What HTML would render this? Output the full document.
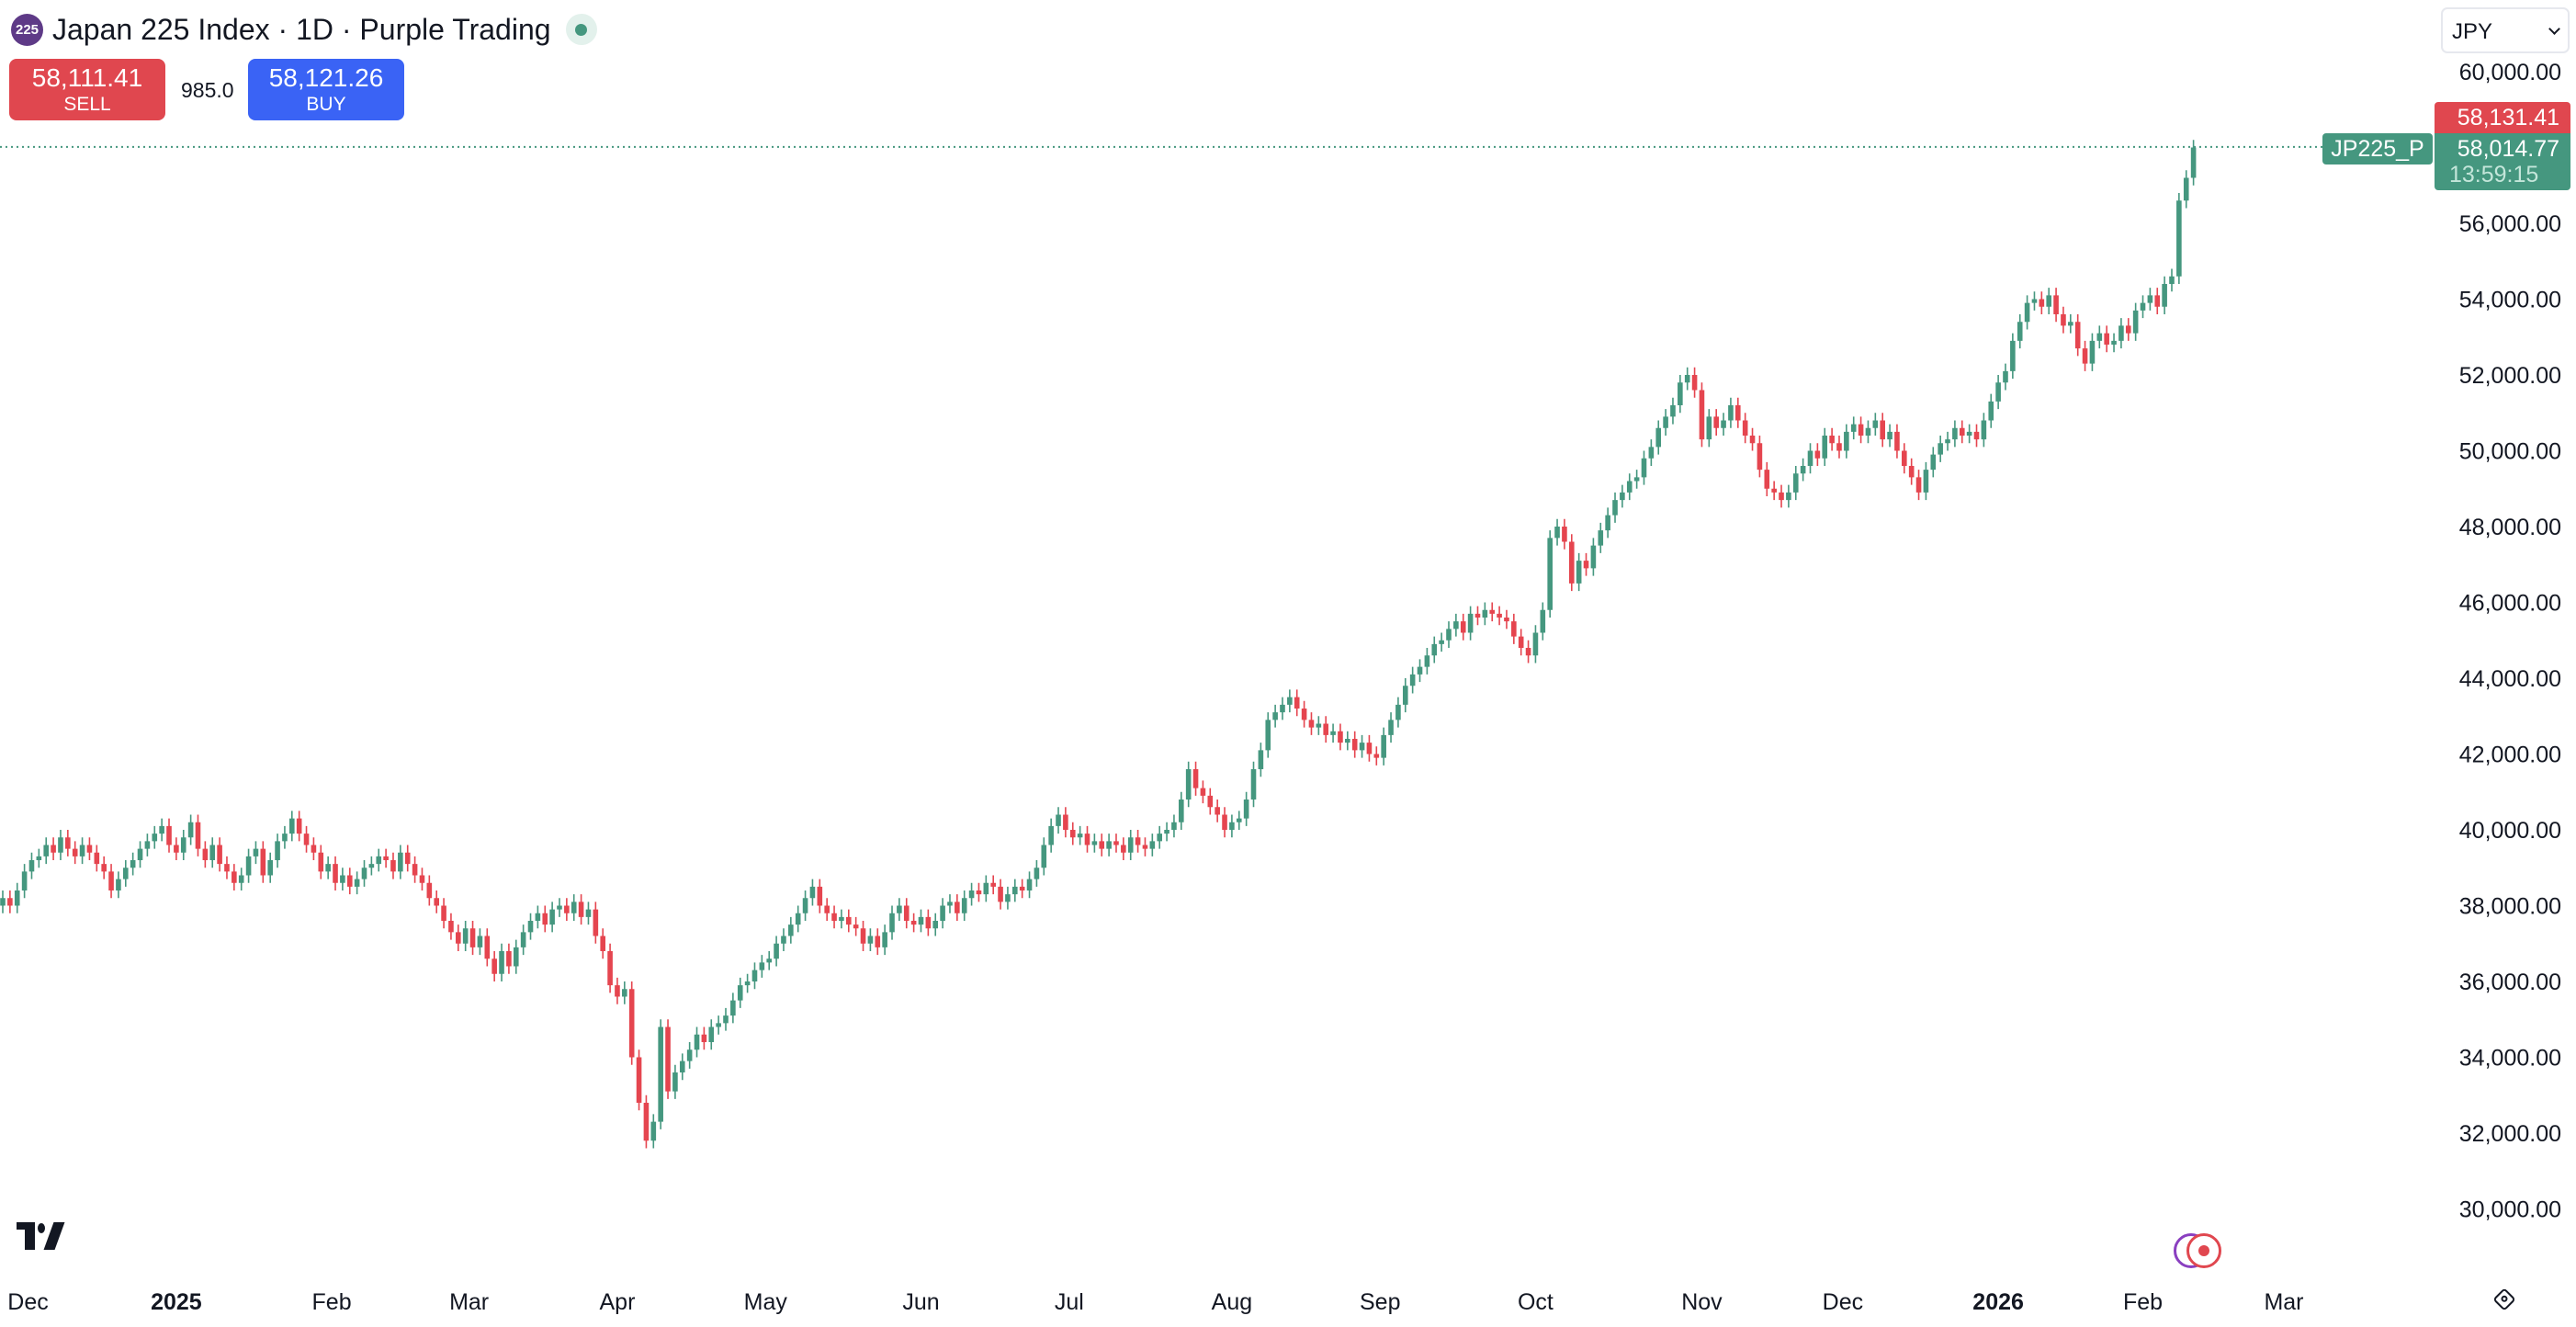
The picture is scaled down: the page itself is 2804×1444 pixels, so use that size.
<!DOCTYPE html>
<html><head><meta charset="utf-8"><style>
body{margin:0;width:2804px;height:1444px;background:#fff;overflow:hidden;font-family:"Liberation Sans",sans-serif;}
svg{position:absolute;left:0;top:0}
</style></head><body>
<svg id="c" width="2804" height="1444"></svg>
<script>
const closes=[38.2,38.0,38.4,38.9,39.2,39.3,39.6,39.4,39.8,39.5,39.3,
39.6,39.4,39.1,38.9,38.4,38.7,39.0,39.2,39.5,39.7,
39.9,40.1,39.6,39.4,39.8,40.2,39.5,39.2,39.6,39.1,
38.9,38.6,38.8,39.3,39.5,38.8,39.2,39.7,39.9,40.3,
39.9,39.6,39.4,38.9,39.1,38.6,38.8,38.5,38.7,39.0,
39.1,39.3,39.2,38.9,39.4,39.1,38.8,38.6,38.2,38.0,
37.6,37.3,37.0,37.4,36.9,37.2,36.6,36.2,36.8,36.4,
36.9,37.3,37.6,37.8,37.5,37.9,38.0,37.8,38.1,37.7,
37.9,37.2,36.8,35.9,35.6,35.8,34.0,32.8,31.8,32.3,
34.8,33.1,33.6,33.9,34.2,34.6,34.4,34.8,34.9,35.1,
35.5,35.9,36.0,36.3,36.5,36.6,37.0,37.2,37.5,37.8,
38.2,38.5,38.0,37.8,37.6,37.7,37.5,37.4,37.0,37.2,
36.9,37.3,37.8,38.0,37.6,37.5,37.7,37.4,37.6,38.0,
38.1,37.8,38.2,38.4,38.3,38.6,38.5,38.1,38.3,38.5,
38.4,38.7,39.0,39.6,40.1,40.4,40.0,39.8,39.9,39.6,
39.7,39.5,39.7,39.6,39.4,39.8,39.6,39.5,39.7,39.9,
40.0,40.2,40.8,41.6,41.1,40.9,40.6,40.4,40.0,40.2,
40.3,40.8,41.6,42.1,42.9,43.1,43.3,43.5,43.2,42.9,
42.7,42.8,42.5,42.6,42.3,42.4,42.1,42.3,42.0,41.9,
42.5,42.9,43.3,43.8,44.1,44.3,44.6,44.9,45.0,45.3,
45.5,45.2,45.7,45.6,45.8,45.7,45.6,45.5,45.1,44.8,
44.6,45.2,45.8,47.7,48.0,47.6,46.5,47.1,46.9,47.5,
47.9,48.3,48.7,48.9,49.2,49.3,49.8,50.1,50.6,50.9,
51.2,51.8,52.0,51.6,50.3,50.9,50.6,50.8,51.2,50.8,
50.4,50.2,49.5,49.0,48.9,48.7,48.9,49.4,49.6,50.0,
49.8,50.4,50.2,50.0,50.5,50.7,50.4,50.6,50.8,50.3,
50.5,50.0,49.6,49.3,48.9,49.5,49.9,50.2,50.3,50.6,
50.4,50.5,50.3,50.8,51.3,51.8,52.1,52.9,53.4,53.9,
54.0,53.8,54.1,53.6,53.3,53.4,52.7,52.3,52.9,53.1,
52.8,52.9,53.3,53.1,53.7,53.9,54.1,53.8,54.4,54.6,
56.6,57.2,58.0];
const yTicks=[30000,32000,34000,36000,38000,40000,42000,44000,46000,48000,50000,52000,54000,56000,58000,60000];
const monthLabels=["Dec","2025","Feb","Mar","Apr","May","Jun","Jul","Aug","Sep","Oct","Nov","Dec","2026","Feb","Mar"];
const monthBars=[3.5,24,45.5,64.5,85,105.5,127,147.5,170,190.5,212,235,254.5,276,296,315.5];
const boldLabels=["2025","2026"];
const lastPrice=58014.77;
const ns="http://www.w3.org/2000/svg";
const svg=document.getElementById('c');
const y=p=>78+(60000-p)/1000*41.25;
const x=i=>3+i*7.87;
function mk(t,a,txt){const e=document.createElementNS(ns,t);for(const k in a)e.setAttribute(k,a[k]);if(txt!==undefined)e.textContent=txt;svg.appendChild(e);return e;}
yTicks.forEach(v=>{
const t=mk('text',{x:2788,y:y(v)+9,'text-anchor':'end','font-size':25,fill:'#131722'},v.toLocaleString('en-US',{minimumFractionDigits:2}));


});
monthLabels.forEach((m,i)=>{
const t=mk('text',{x:x(monthBars[i]),y:1425,'text-anchor':'middle','font-size':25,fill:'#131722','font-weight':boldLabels.includes(m)?'bold':'normal'},m);


});
const pl=mk('line',{x1:0,x2:2528,y1:y(lastPrice),y2:y(lastPrice),stroke:'#45977f','stroke-width':2,'stroke-dasharray':'2 4'});


closes.forEach((c,i)=>{
const cl=c*1000, op=(i?closes[i-1]:c-0.2)*1000;
const up=cl>=op, col=up?'#45977f':'#e5454f';
const hi=Math.max(op,cl)+200, lo=Math.min(op,cl)-200;
const w=mk('line',{x1:x(i),x2:x(i),y1:y(hi),y2:y(lo),stroke:col,'stroke-width':1.6});


const top=y(Math.max(op,cl)),h=Math.max(1.5,y(Math.min(op,cl))-top);
const b=mk('rect',{x:x(i)-2.8,y:top,width:5.6,height:h,fill:col});


});
</script>
<div style="position:absolute;left:12px;top:13px;height:38px;display:flex;align-items:center">
<div style="width:35px;height:35px;border-radius:50%;background:#5e3a87;color:#fff;font-size:15px;font-weight:bold;display:flex;align-items:center;justify-content:center">225</div>
<div style="margin-left:10px;font-size:32px;color:#131722">Japan 225 Index · 1D · Purple Trading</div>
<div style="margin-left:16px;width:34px;height:34px;border-radius:50%;background:#e3f1ec;display:flex;align-items:center;justify-content:center"><div style="width:13px;height:13px;border-radius:50%;background:#45977f"></div></div>
</div>
<div style="position:absolute;left:10px;top:64px;width:170px;height:67px;background:#e0474f;border-radius:8px;color:#fff;text-align:center">
<div style="font-size:28px;margin-top:5px">58,111.41</div><div style="font-size:21px;margin-top:1px">SELL</div></div>
<div style="position:absolute;left:197px;top:85px;font-size:23px;color:#131722">985.0</div>
<div style="position:absolute;left:270px;top:64px;width:170px;height:67px;background:#3a63f5;border-radius:8px;color:#fff;text-align:center">
<div style="font-size:28px;margin-top:5px">58,121.26</div><div style="font-size:21px;margin-top:1px">BUY</div></div>
<div style="position:absolute;left:2657px;top:8px;width:140px;height:50px;border:2px solid #e6e8ee;border-radius:7px;box-sizing:border-box">
<span style="position:absolute;left:10px;top:11px;font-size:24px;color:#131722">JPY</span>
<span style="position:absolute;right:10px;top:17px;width:7px;height:7px;border-right:2px solid #131722;border-bottom:2px solid #131722;transform:rotate(45deg)"></span></div>
<div style="position:absolute;left:2650px;top:111px;width:148px;height:34px;background:#e0474f;border-radius:4px 4px 0 0;color:#fff;font-size:25px;text-align:right;box-sizing:border-box;padding-right:12px;line-height:34px">58,131.41</div>
<div style="position:absolute;left:2650px;top:145px;width:148px;height:62px;background:#45977f;border-radius:0 0 4px 4px;color:#fff;font-size:25px;text-align:right;box-sizing:border-box;padding-right:12px">
<div style="line-height:32px;margin-top:1px">58,014.77</div><div style="line-height:24px;color:#c4e6da;text-align:left;padding-left:16px">13:59:15</div></div>
<div style="position:absolute;left:2528px;top:145px;width:120px;height:34px;background:#45977f;border-radius:4px;color:#fff;font-size:25px;text-align:center;line-height:34px">JP225_P</div>
<div style="position:absolute;left:18px;top:1330px;width:60px;height:30px">
<div style="position:absolute;left:0;top:0;width:20px;height:8px;background:#131722"></div>
<div style="position:absolute;left:9px;top:0;width:11px;height:30px;background:#131722"></div>
<div style="position:absolute;left:23px;top:1px;width:8px;height:11px;border-radius:50%;background:#131722"></div>
<div style="position:absolute;left:35px;top:0;width:12px;height:30px;background:#131722;transform:skewX(-20deg)"></div></div>
<div style="position:absolute;left:2366px;top:1342px">
<div style="position:absolute;left:0;top:0;width:38px;height:38px;border:3px solid #8a3fc0;border-radius:50%;box-sizing:border-box;background:#fff"></div>
<div style="position:absolute;left:14px;top:0;width:38px;height:38px;border:3px solid #e0474f;border-radius:50%;box-sizing:border-box;background:#fff"></div>
<div style="position:absolute;left:27px;top:13px;width:12px;height:12px;border-radius:50%;background:#e0474f"></div></div>
<div style="position:absolute;left:2717px;top:1405px;width:18px;height:18px;border:2.5px solid #131722;border-radius:4px;transform:rotate(45deg);box-sizing:border-box">
<div style="position:absolute;left:3px;top:3px;width:7px;height:7px;border:2px solid #131722;border-radius:50%;box-sizing:border-box"></div></div>
</body></html>
